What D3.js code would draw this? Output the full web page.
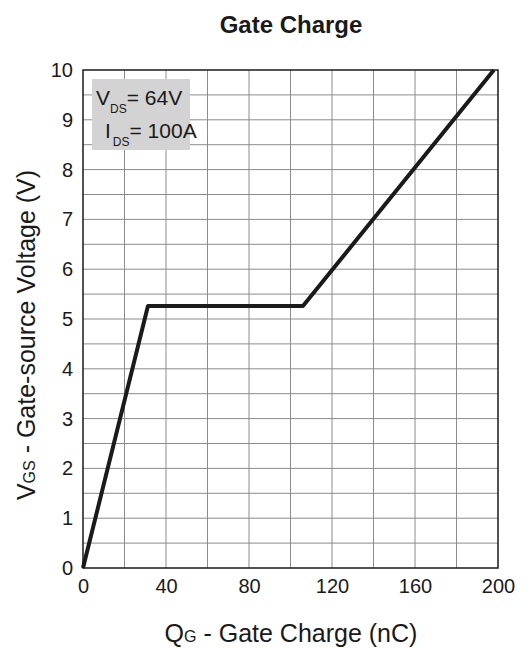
<!DOCTYPE html>
<html><head><meta charset="utf-8">
<script src="https://cdn.jsdelivr.net/npm/d3@7"></script>
<style>body{margin:0;background:#fff}svg{display:block;font-family:"Liberation Sans",Arial,sans-serif}</style>
</head><body>
<script>
const qg = [0, 31.3, 106, 198];
const vgs = [0, 5.26, 5.26, 10];
const xTicks = [0, 40, 80, 120, 160, 200];
const yTicks = [0,1,2,3,4,5,6,7,8,9,10];

const W = 523, H = 648;
const m = {left: 83, right: 25, top: 70, bottom: 80};
const svg = d3.select("body").append("svg").attr("width", W).attr("height", H);
const x = d3.scaleLinear().domain([0, 200]).range([m.left, W - m.right]);
const y = d3.scaleLinear().domain([0, 10]).range([H - m.bottom, m.top]);

const g = svg.append("g");
// grid
g.selectAll(".vg").data(d3.range(20, 200, 20)).enter().append("line")
  .attr("x1", d => x(d)).attr("x2", d => x(d)).attr("y1", y(0)).attr("y2", y(10))
  .attr("stroke", "#8c8c8c").attr("stroke-width", 1);
g.selectAll(".hg").data(d3.range(0.5, 10, 0.5)).enter().append("line")
  .attr("y1", d => y(d)).attr("y2", d => y(d)).attr("x1", x(0)).attr("x2", x(200))
  .attr("stroke", "#8c8c8c").attr("stroke-width", 1);

// annotation box
svg.append("rect").attr("x", 92).attr("y", 79).attr("width", 98).attr("height", 71).attr("fill", "#d3d3d3");
const t1 = svg.append("text").attr("x", 96).attr("y", 105).attr("font-size", 21).attr("fill", "#1a1a1a");
t1.append("tspan").text("V");
t1.append("tspan").attr("font-size", 12).attr("dy", 8).text("DS");
t1.append("tspan").attr("dy", -8).text("= 64V");
const t2 = svg.append("text").attr("x", 105).attr("y", 138).attr("font-size", 21).attr("fill", "#1a1a1a");
t2.append("tspan").text("I");
t2.append("tspan").attr("font-size", 12).attr("dy", 8).attr("dx", 2).text("DS");
t2.append("tspan").attr("dy", -8).text("= 100A");

// frame
svg.append("rect").attr("x", x(0)).attr("y", y(10)).attr("width", x(200) - x(0)).attr("height", y(0) - y(10))
  .attr("fill", "none").attr("stroke", "#1a1a1a").attr("stroke-width", 1.5);

// axes labels
const xa = svg.append("g").attr("transform", `translate(0,${y(0)})`)
  .call(d3.axisBottom(x).tickValues(xTicks).tickSize(0).tickPadding(11));
xa.select(".domain").remove();
xa.selectAll("text").attr("font-size", 20).attr("fill", "#1a1a1a").attr("font-family", "Liberation Sans, Arial, sans-serif");
const ya = svg.append("g").attr("transform", `translate(${x(0)},0)`)
  .call(d3.axisLeft(y).tickValues(yTicks).tickSize(0).tickPadding(10));
ya.select(".domain").remove();
ya.selectAll("text").attr("font-size", 20).attr("fill", "#1a1a1a").attr("font-family", "Liberation Sans, Arial, sans-serif");

// curve
const line = d3.line().x((d, i) => x(qg[i])).y((d, i) => y(vgs[i]));
svg.append("path").attr("d", line(qg)).attr("fill", "none").attr("stroke", "#1a1a1a")
  .attr("stroke-width", 4).attr("stroke-linejoin", "round");

// titles
svg.append("text").attr("x", 291).attr("y", 33).attr("text-anchor", "middle")
  .attr("font-size", 24).attr("font-weight", "bold").attr("fill", "#1a1a1a").text("Gate Charge");
const xt = svg.append("text").attr("x", 291).attr("y", 642).attr("text-anchor", "middle")
  .attr("font-size", 25).attr("fill", "#1a1a1a");
xt.append("tspan").text("Q");
xt.append("tspan").attr("font-size", 16).text("G");
xt.append("tspan").text(" - Gate Charge (nC)");
const yt = svg.append("text").attr("transform", "translate(35,335) rotate(-90)").attr("text-anchor", "middle")
  .attr("font-size", 25).attr("fill", "#1a1a1a");
yt.append("tspan").text("V");
yt.append("tspan").attr("font-size", 16).text("GS");
yt.append("tspan").text(" - Gate-source Voltage (V)");
</script>
</body></html>
